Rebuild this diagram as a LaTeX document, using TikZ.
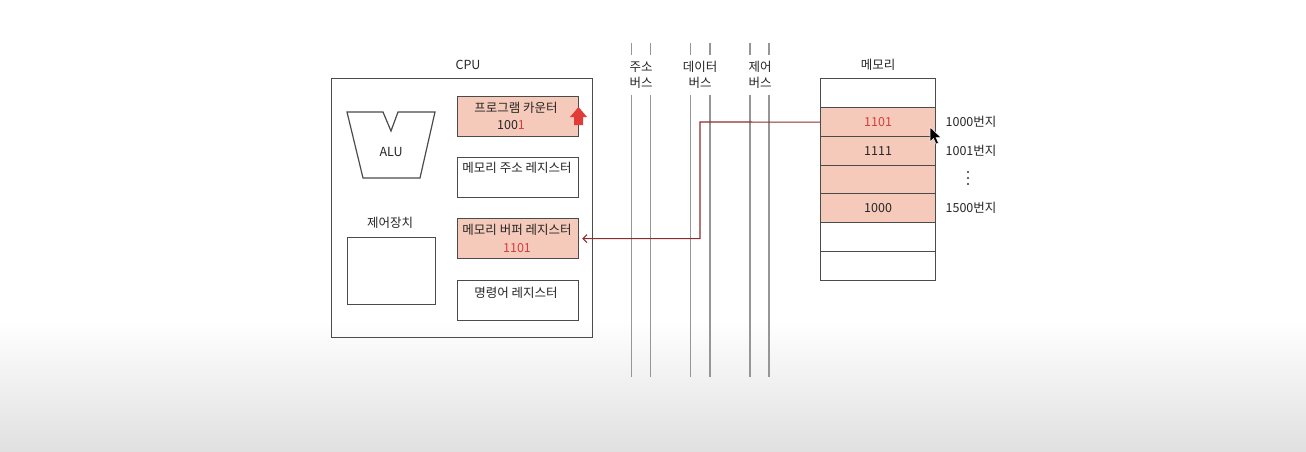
\documentclass[tikz,border=0pt]{standalone}
\usepackage{fontspec}
\setmainfont{Noto Sans CJK KR}
\usetikzlibrary{arrows.meta}
\definecolor{salmon}{RGB}{245,202,186}
\definecolor{boxline}{RGB}{75,75,75}
\definecolor{busline}{RGB}{150,150,150}
\definecolor{wire}{RGB}{140,45,45}
\definecolor{redtxt}{RGB}{215,60,60}
\definecolor{arrowred}{RGB}{225,60,55}
\begin{document}
\begin{tikzpicture}[x=1pt,y=-1pt,
  font=\fontsize{12.5}{15}\selectfont,
  txt/.style={inner sep=0pt, text=black!85},
  reg/.style={draw=boxline, line width=1.2pt, minimum width=121pt, minimum height=40pt, inner sep=0pt, anchor=north west},
  mem/.style={draw=boxline, line width=1.2pt, minimum width=115pt, minimum height=29pt, inner sep=0pt, anchor=north west},
  bus/.style={draw=busline, line width=1.3pt},
  frame/.style={draw=boxline, line width=1.2pt}]
\useasboundingbox (0,0) rectangle (1306,451);
\fill[white] (0,0) rectangle (1306,320);
\shade[top color=white, bottom color=black!12] (0,319.5) rectangle (1306,451);

% CPU
\node[txt] (cpulbl) at (468,65) {CPU};
\node[frame, minimum width=261pt, minimum height=259pt, anchor=north west, inner sep=0pt] (cpu) at (331,78) {};

% ALU
\draw[frame] (347,112) -- (383,112) -- (391,131) -- (398,112) -- (435,112) -- (420,178) -- (363,178) -- cycle;
\node[txt] (alu) at (391,152) {ALU};

% control unit
\node[txt] (cullbl) at (390,223) {제어장치};
\node[frame, minimum width=88pt, minimum height=67pt, anchor=north west, inner sep=0pt] (cu) at (347,237) {};

% registers
\node[reg, fill=salmon] (pc) at (457,96) {};
\node[txt] (pct) at (516,108) {프로그램 카운터};
\node[txt] (pcv) at (511,125) {100\textcolor{redtxt}{1}};
\fill[arrowred] (570,117) -- (578.5,107) -- (587,117) -- (583,117) -- (583,125) -- (574,125) -- (574,117) -- cycle;

\node[reg] (mar) at (457,157) {};
\node[txt] (mart) at (517,168) {메모리 주소 레지스터};

\node[reg, fill=salmon] (mbr) at (457,218) {};
\node[txt] (mbrt) at (517,230) {메모리 버퍼 레지스터};
\node[txt, text=redtxt] (mbrv) at (517,248) {1101};

\node[reg] (ir) at (457,280) {};
\node[txt] (irt) at (516,293) {명령어 레지스터};

% buses
\foreach \x in {631.5,650.5,690.5,710,750,769} {
  \draw[bus] (\x,43) -- (\x,55);
  \draw[bus] (\x,95) -- (\x,377);
}
\node[txt, align=center] (abus) at (641,75) {주소\\[1.5pt]버스};
\node[txt, align=center] (dbus) at (700,75) {데이터\\[1.5pt]버스};
\node[txt, align=center] (cbus) at (760,75) {제어\\[1.5pt]버스};

% memory
\node[txt] (memlbl) at (878,65) {메모리};
\node[mem] (m0) at (820,78) {};
\node[mem, fill=salmon] (m1) at (820,107) {};
\node[mem, fill=salmon] (m2) at (820,136) {};
\node[mem, fill=salmon] (m3) at (820,164.5) {};
\node[mem, fill=salmon] (m4) at (820,193) {};
\node[mem] (m5) at (820,222) {};
\node[mem] (m6) at (820,251) {};
\node[txt, text=redtxt] (v1) at (m1) {1101};
\node[txt] (v2) at (m2) {1111};
\node[txt] (v4) at (m4) {1000};

\node[txt] (a1) at (971,122) {1000번지};
\node[txt] (a2) at (971,151) {1001번지};
\node[inner sep=0pt] (a3) at (968,178) {\tikz[x=1pt,y=1pt]{\foreach \yy in {0,6,12} \fill[black!80] (0,\yy) circle (1.1pt);}};
\node[txt] (a4) at (971,208) {1500번지};

% wire
\coordinate (turn) at (700,122);
\draw[wire, line width=1.1pt, -{Straight Barb[length=4pt,width=8pt]}, shorten >=3pt] (m1.west) -- (turn) |- (mbr.east);

% mouse cursor
\filldraw[fill=black, draw=white, line width=0.5pt] (930,127) -- (930,142) -- (933.5,138.5) -- (936,144) -- (938.5,143) -- (936,137.5) -- (941,137.5) -- cycle;
\end{tikzpicture}
\end{document}
